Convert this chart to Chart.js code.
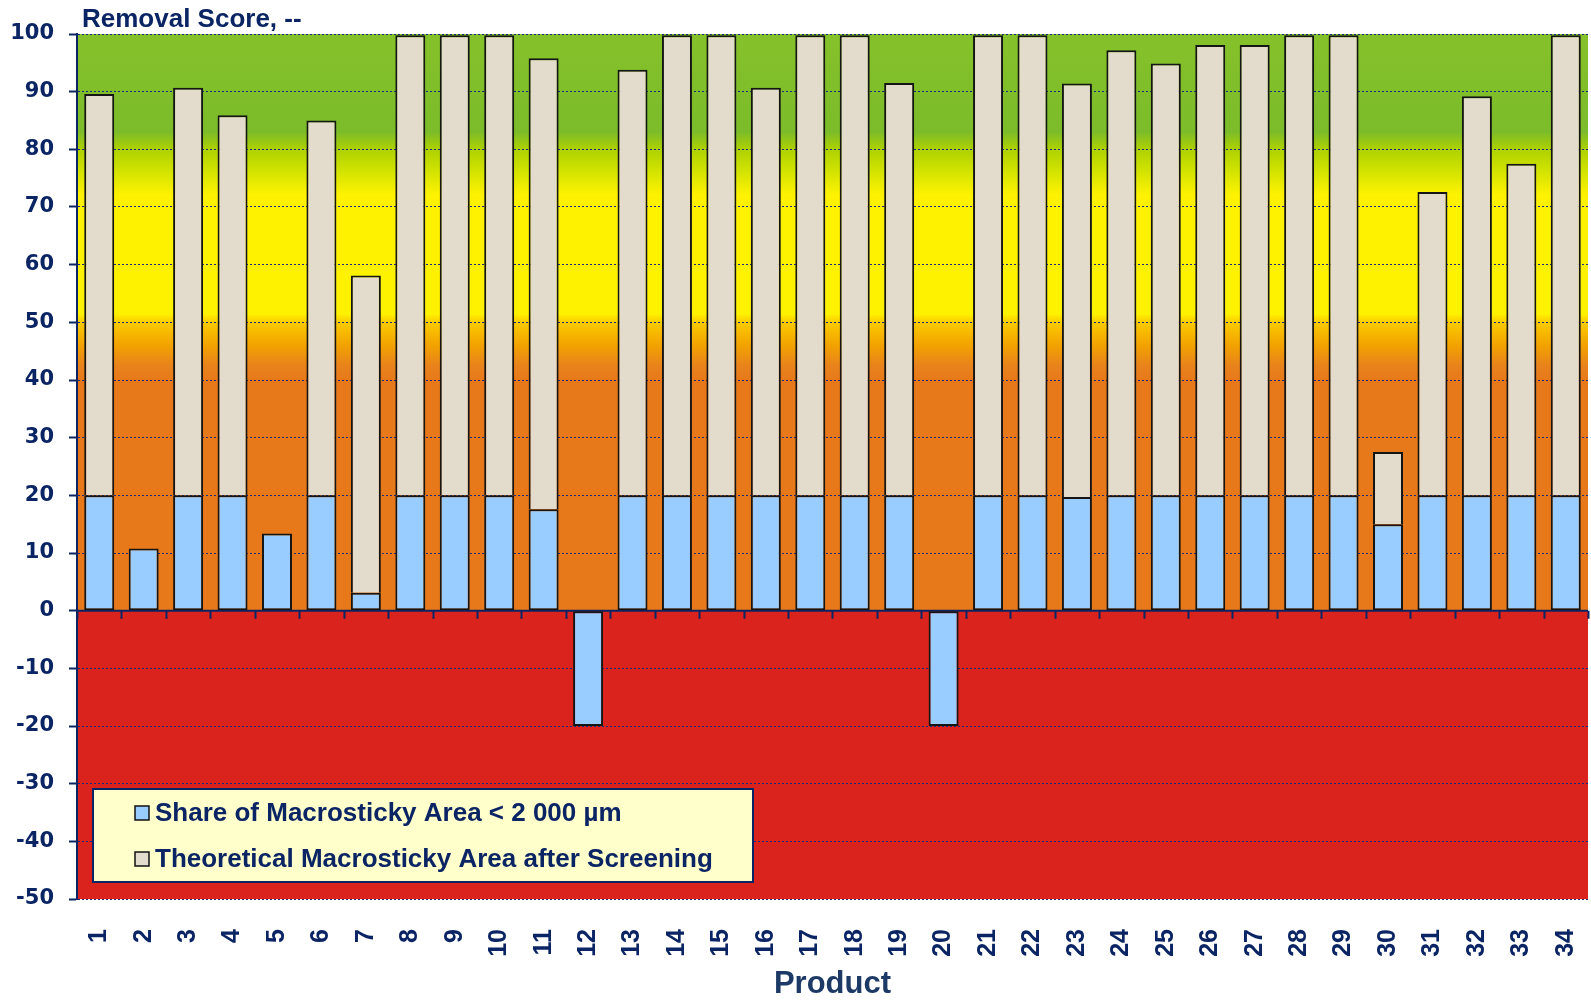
<!DOCTYPE html>
<html>
<head>
<meta charset="utf-8">
<script src="https://cdn.jsdelivr.net/npm/chart.js@4.4.1/dist/chart.umd.min.js"></script>
<style>
  html, body { margin: 0; padding: 0; background: #ffffff; overflow: hidden; }
  #c { display: block; }
</style>
</head>
<body>
<canvas id="c" width="1591" height="1000" style="width:1591px;height:1000px"></canvas>
<script>
// ---- data ----
const categories = ["1","2","3","4","5","6","7","8","9","10","11","12","13","14","15","16","17","18","19","20","21","22","23","24","25","26","27","28","29","30","31","32","33","34"];
const shareSmall = [20, 10.8, 20, 20, 13.4, 20, 3.1, 20, 20, 20, 17.6, -20, 20, 20, 20, 20, 20, 20, 20, -20, 20, 20, 19.7, 20, 20, 20, 20, 20, 20, 15.0, 20, 20, 20, 20];
const theoretical = [69.6, null, 70.7, 65.9, null, 65.0, 55.0, 79.8, 79.8, 79.8, 78.2, null, 73.8, 79.8, 79.8, 70.7, 79.8, 79.8, 71.5, null, 79.8, 79.8, 71.7, 77.2, 74.9, 78.1, 78.1, 79.8, 79.8, 12.5, 52.6, 69.2, 57.5, 79.8];
const seriesNames = ["Share of Macrosticky Area < 2 000 \u00b5m", "Theoretical Macrosticky Area after Screening"];
const yTitle = "Removal Score, --";
const xTitle = "Product";

const NAVY = '#0b2464';
const FONT = "'Liberation Sans', Arial, sans-serif";
const WIDE = "'DejaVu Sans', 'Liberation Sans', sans-serif";

// background zones keyed by score value
const zoneStops = [
  [100, '#85c12a'], [83, '#7cbc2a'], [80, '#aed100'], [76, '#d4e400'], [72, '#fff200'],
  [51.5, '#fff200'], [50, '#fbcb00'], [46, '#f2a200'], [42.5, '#e8831c'], [40, '#e8791a'],
  [0, '#e8791a']
];
const negColor = '#da231c';

const bgPlugin = {
  id: 'bg',
  beforeDraw(chart) {
    const {ctx, chartArea: a, scales: {y}} = chart;
    const top = y.getPixelForValue(100), bot = y.getPixelForValue(0);
    const g = ctx.createLinearGradient(0, top, 0, bot);
    zoneStops.forEach(([v, c]) => {
      const p = (y.getPixelForValue(v) - top) / (bot - top);
      g.addColorStop(Math.min(1, Math.max(0, p)), c);
    });
    ctx.save();
    ctx.fillStyle = g;
    ctx.fillRect(a.left, a.top, a.right - a.left, bot - a.top);
    ctx.fillStyle = negColor;
    ctx.fillRect(a.left, bot, a.right - a.left, a.bottom - bot);
    ctx.restore();
  }
};

const axisPlugin = {
  id: 'zeroAxis',
  beforeDatasetsDraw(chart) {
    const {ctx, chartArea: a, scales: {x, y}} = chart;
    const y0 = y.getPixelForValue(0);
    ctx.save();
    ctx.strokeStyle = NAVY;
    ctx.lineWidth = 2;
    ctx.beginPath();
    ctx.moveTo(a.left, y0); ctx.lineTo(a.right, y0);
    ctx.stroke();
    const n = categories.length;
    const half = (x.getPixelForValue(1) - x.getPixelForValue(0)) / 2;
    ctx.beginPath();
    for (let i = 0; i <= n; i++) {
      const px = Math.round(x.getPixelForValue(i) - half) + 0.5;
      ctx.moveTo(px, y0); ctx.lineTo(px, y0 + 8);
    }
    ctx.stroke();
    ctx.restore();
  }
};

const overlayPlugin = {
  id: 'overlay',
  afterDraw(chart) {
    const {ctx, chartArea: a} = chart;
    ctx.save();
    // y-axis title
    ctx.fillStyle = NAVY;
    ctx.font = "bold 26px " + FONT;
    ctx.textBaseline = 'alphabetic';
    ctx.textAlign = 'left';
    ctx.fillText(yTitle, a.left + 5, 27);
    // legend box
    const bx = a.left + 16, by = 789, bw = 660, bh = 93;
    ctx.fillStyle = '#ffffcc';
    ctx.fillRect(bx, by, bw, bh);
    ctx.strokeStyle = NAVY;
    ctx.lineWidth = 2;
    ctx.strokeRect(bx, by, bw, bh);
    chart.data.datasets.forEach((ds, i) => {
      const cy = by + 24 + i * 46;
      ctx.fillStyle = ds.backgroundColor;
      ctx.fillRect(bx + 42, cy - 7, 14, 14);
      ctx.strokeStyle = '#111';
      ctx.lineWidth = 1.5;
      ctx.strokeRect(bx + 42, cy - 7, 14, 14);
      ctx.fillStyle = NAVY;
      ctx.font = "bold 26px " + FONT;
      ctx.textBaseline = 'middle';
      ctx.fillText(ds.label, bx + 62, cy + 1);
    });
    ctx.restore();
  }
};

new Chart(document.getElementById('c'), {
  type: 'bar',
  data: {
    labels: categories,
    datasets: [
      { label: seriesNames[0], data: shareSmall, backgroundColor: '#99ccff', borderColor: '#151515', borderWidth: 2, borderSkipped: false, stack: 's' },
      { label: seriesNames[1], data: theoretical, backgroundColor: '#e3dbcc', borderColor: '#151515', borderWidth: 2, borderSkipped: 'bottom', stack: 's' }
    ]
  },
  options: {
    responsive: false,
    maintainAspectRatio: false,
    animation: false,
    devicePixelRatio: 1,
    layout: { padding: { top: 34, right: 3, left: 0, bottom: 0 } },
    datasets: { bar: { categoryPercentage: 1, barPercentage: 0.675 } },
    plugins: { legend: { display: false }, tooltip: { enabled: false }, title: { display: false } },
    scales: {
      x: {
        stacked: true,
        grid: { display: false },
        border: { display: false },
        ticks: { autoSkip: false, maxRotation: 90, minRotation: 90, padding: 22, color: NAVY, font: { family: FONT, size: 25, weight: 'bold' } },
        title: { display: true, text: xTitle, color: '#1d3a66', padding: 0, font: { family: FONT, size: 31, weight: 'bold', lineHeight: 1 } },
        afterFit(s) { s.height = 101; s.paddingLeft = 0; s.paddingRight = 0; }
      },
      y: {
        stacked: true,
        min: -50, max: 100,
        ticks: { stepSize: 10, padding: 15, color: NAVY, font: { family: WIDE, size: 21, weight: 'bold' } },
        grid: { color: '#1b2a78', lineWidth: 1, tickLength: 8, tickColor: NAVY, tickWidth: 2, tickBorderDash: [] },
        border: { display: true, color: NAVY, width: 2, dash: [2, 2] },
        afterFit(s) { s.width = 77; }
      }
    }
  },
  plugins: [bgPlugin, axisPlugin, overlayPlugin]
});
</script>
</body>
</html>
